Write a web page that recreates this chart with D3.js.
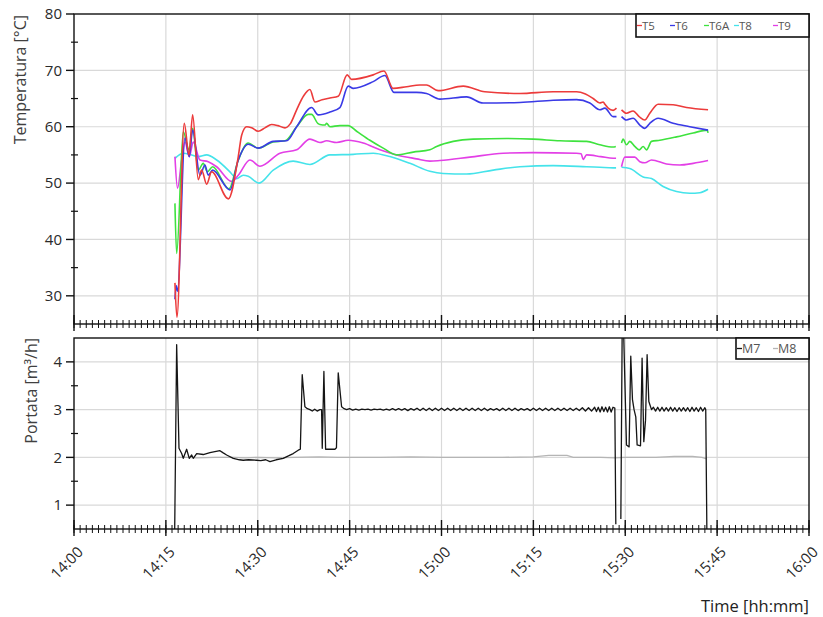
<!DOCTYPE html>
<html><head><meta charset="utf-8">
<script src="https://cdn.jsdelivr.net/npm/d3@7"></script>
<style>
body{margin:0;background:#fff}
svg{display:block}
text{font-family:"Open Sans",sans-serif}
</style>
</head><body>
<svg id="c" width="823" height="617"></svg>
<script>
// ---------- DATA (time = minutes after 14:00, value) ----------
const tempNames = ["T5", "T6", "T6A", "T8", "T9"];
const flowNames = ["M7", "M8"];
const timeTicks = ["14:00","14:15","14:30","14:45","15:00","15:15","15:30","15:45","16:00"];
const tempTicks = [30, 40, 50, 60, 70, 80];
const flowTicks = [1, 2, 3, 4];

const t5 = [[16.48,32.3],[16.81,26.2],[18.0,60.6],[18.77,55.0],[19.37,62.1],[20.29,50.6],[20.84,52.3],[21.66,49.8],[22.47,52.0],[25.2,47.2],[26.82,54.7],[27.37,58.5],[28.19,60.0],[29.0,59.8],[30.08,59.2],[31.17,59.8],[32.27,60.4],[33.3,60.2],[34.44,59.8],[35.3,60.5],[36.35,63.0],[37.5,65.5],[38.52,66.6],[39.33,64.4],[40.5,64.8],[41.78,65.1],[43.14,65.4],[44.6,69.2],[45.32,68.4],[48.85,69.2],[50.6,69.9],[52.11,66.8],[54.3,67.1],[56.47,67.4],[57.56,67.4],[59.46,66.4],[63.54,67.2],[67.08,66.2],[72.8,65.9],[78.24,66.2],[82.05,66.2],[83.5,65.8],[84.76,65.0],[85.85,64.2],[86.39,64.4],[86.67,64.0],[87.21,63.3],[88.02,62.9],[88.57,63.3],[88.9,null],[89.39,63.0],[90.2,62.4],[91.28,62.8],[92.27,61.8],[93.2,61.2],[94.01,62.4],[95.37,64.0],[97.81,63.9],[100.0,63.4],[103.52,63.0]];
const t6 = [[16.48,29.4],[16.7,31.8],[16.9,30.8],[18.12,58.0],[18.82,54.7],[19.37,59.4],[20.56,51.4],[21.38,53.2],[21.92,51.4],[22.64,52.3],[25.46,48.8],[26.82,54.1],[28.45,56.9],[30.08,56.2],[32.53,57.4],[34.71,57.5],[36.35,60.0],[38.79,63.4],[39.87,62.1],[41.78,62.6],[43.41,63.4],[44.77,67.2],[45.59,66.8],[48.85,68.0],[50.76,69.1],[52.23,66.1],[55.93,66.1],[57.56,65.9],[59.74,64.9],[64.09,65.3],[66.8,64.2],[72.8,64.3],[78.24,64.7],[82.05,64.8],[84.22,64.2],[85.85,63.0],[86.67,63.3],[88.02,61.8],[88.57,61.8],[88.9,null],[89.39,61.8],[90.2,61.2],[91.28,61.5],[92.38,60.3],[93.2,59.7],[94.01,60.6],[95.37,61.5],[97.81,60.6],[100.54,60.0],[103.52,59.4]];
const t6a = [[16.48,46.4],[16.76,37.5],[17.84,59.1],[18.77,55.9],[19.37,59.7],[20.29,52.3],[21.1,53.5],[21.76,52.0],[22.64,52.9],[25.3,49.0],[26.8,54.0],[28.45,57.1],[30.08,56.2],[32.5,57.3],[34.44,57.5],[36.35,60.0],[38.24,62.2],[38.79,62.2],[39.8,60.6],[40.15,60.4],[41.0,60.3],[41.24,60.6],[41.78,60.0],[43.41,60.2],[44.77,60.2],[46.14,59.2],[48.31,57.6],[50.48,56.2],[52.67,55.0],[55.38,55.5],[58.1,55.9],[59.2,56.5],[61.91,57.4],[65.17,57.8],[70.63,57.9],[74.97,57.8],[79.32,57.5],[83.68,57.4],[85.85,56.8],[88.02,56.4],[88.46,56.5],[88.9,null],[89.39,57.1],[89.65,57.8],[90.2,56.8],[90.74,57.4],[91.56,56.5],[92.27,55.9],[92.92,56.5],[93.47,55.9],[94.29,57.4],[95.64,57.6],[98.37,58.2],[101.09,58.9],[103.4,59.4],[103.52,58.9]];
const t8 = [[16.48,54.4],[17.84,55.3],[19.21,55.0],[20.29,54.7],[21.66,55.0],[23.29,54.1],[25.46,52.0],[26.55,50.8],[27.63,51.4],[28.45,51.2],[30.2,50.0],[32.53,52.3],[35.79,53.9],[38.52,53.3],[41.78,55.0],[45.59,55.1],[48.85,55.3],[51.57,54.7],[54.84,53.5],[58.1,52.1],[60.27,51.7],[64.09,51.6],[68.44,52.3],[72.8,52.9],[78.24,53.1],[83.68,52.9],[85.85,52.8],[88.0,52.7],[88.5,52.7],[88.9,null],[89.39,52.8],[90.74,52.6],[92.92,51.1],[94.29,50.8],[96.18,49.4],[98.37,48.5],[100.54,48.2],[102.18,48.3],[103.52,48.9]];
const t9 = [[16.48,54.7],[16.9,49.1],[17.58,54.1],[18.12,57.3],[18.82,54.7],[19.47,57.3],[20.56,54.1],[21.92,53.8],[23.29,52.9],[25.74,50.3],[26.82,51.4],[28.72,54.1],[30.36,53.0],[33.62,55.3],[36.35,55.9],[38.52,57.8],[40.15,57.2],[41.24,57.5],[42.87,57.2],[44.77,57.6],[47.22,57.1],[49.94,55.9],[52.67,55.0],[55.93,54.3],[58.1,53.9],[59.74,54.0],[64.63,54.6],[70.07,55.3],[74.97,55.4],[82.05,55.3],[82.8,55.2],[83.13,54.2],[83.68,55.0],[86.0,54.7],[88.02,54.4],[88.5,54.4],[88.9,null],[89.39,52.9],[89.93,54.6],[91.56,54.6],[92.38,53.8],[93.2,53.6],[94.29,54.1],[96.73,53.4],[98.91,53.2],[101.09,53.5],[103.52,54.0]];

const m7 = [[16.40,0.0],[16.76,4.36],[17.14,2.19],[17.58,2.08],[17.84,1.98],[18.39,2.17],[18.82,1.98],[19.21,2.05],[19.47,1.98],[20.03,2.08],[21.1,2.06],[22.2,2.10],[23.0,2.12],[23.83,2.14],[24.3,2.10],[24.92,2.05],[26.0,1.98],[27.0,1.95],[27.63,1.94],[28.5,1.95],[29.82,1.94],[30.5,1.93],[31.3,1.95],[31.99,1.91],[33.0,1.95],[34.16,1.98],[35.0,2.03],[35.79,2.08],[36.61,2.15],[36.95,2.17],[37.26,3.73],[37.7,3.06],[38.1,3.02],[38.52,3.0],[38.9,2.97],[39.3,3.01],[39.7,2.97],[40.15,3.0],[40.42,3.0],[40.53,2.19],[40.8,3.8],[41.08,2.17],[42.6,2.17],[42.85,2.2],[43.14,3.77],[43.69,3.06],[44.1,3.02],
[44.5,3.00],[45.0,3.02],[45.5,2.99],[46.0,3.01],[46.5,2.99],[47.0,3.01],[47.5,3.00],[48.0,3.01],[48.5,2.99],[49.0,3.01],[49.5,3.00],[50.0,3.01],[50.5,2.99],[51.0,3.01],[51.5,2.99],[52.0,3.02],[52.5,2.99],[53.0,3.02],[53.5,2.99],[54.0,3.02],[54.5,2.98],[55.0,3.02],[55.5,2.99],[56.0,3.03],[56.5,2.98],[57.0,3.03],[57.5,2.98],[58.0,3.03],[58.5,2.98],[59.0,3.03],[59.5,2.98],[60.0,3.03],[60.5,2.98],[61.0,3.03],[61.5,2.98],[62.0,3.03],[62.5,2.98],[63.0,3.03],[63.5,2.98],[64.0,3.03],[64.5,2.98],[65.0,3.03],[65.5,2.98],[66.0,3.03],[66.5,2.98],[67.0,3.03],[67.5,2.98],[68.0,3.02],[68.5,2.99],[69.0,3.02],[69.5,2.98],[70.0,3.03],[70.5,2.98],[71.0,3.03],[71.5,2.98],[72.0,3.03],[72.5,2.98],[73.0,3.02],[73.5,2.99],[74.0,3.02],[74.5,2.98],[75.0,3.03],[75.5,2.98],[76.0,3.03],[76.5,2.98],[77.0,3.03],[77.5,2.98],[78.0,3.03],[78.5,2.98],[79.0,3.03],[79.5,2.98],[80.0,3.03],[80.5,2.98],[81.0,3.03],[81.5,2.98],[82.0,3.03],[82.5,2.98],[83.0,3.04],[83.5,2.97],[84.0,3.04],[84.5,2.97],[85.0,3.05],[85.3,2.96],[85.6,3.05],[85.9,2.95],[86.2,3.06],[86.5,2.96],[86.8,3.05],[87.1,2.95],[87.4,3.06],[87.7,2.95],[88.0,3.05],[88.3,3.03],[88.46,0.6],[88.9,null],
[89.28,0.71],[89.5,4.7],[89.72,4.7],[90.2,2.26],[90.63,2.22],[90.9,4.12],[91.18,3.21],[91.44,3.0],[91.72,2.85],[91.94,2.26],[92.49,2.24],[92.75,4.08],[93.03,2.33],[93.31,2.78],[93.57,4.15],[93.85,3.17],[94.29,3.0],
[94.6,3.05],[94.95,2.97],[95.3,3.05],[95.65,2.97],[96.0,3.05],[96.35,2.97],[96.7,3.04],[97.05,2.97],[97.4,3.05],[97.75,2.97],[98.1,3.04],[98.45,2.96],[98.8,3.04],[99.15,2.97],[99.5,3.04],[99.85,2.97],[100.2,3.04],[100.55,2.96],[100.9,3.05],[101.25,2.97],[101.6,3.04],[101.95,2.96],[102.3,3.05],[102.65,2.97],[103.0,3.04],[103.14,3.0],[103.36,0.0]];
const m8 = [[17.0,2.0],[18.5,2.0],[20.0,1.99],[23.0,2.0],[26.0,2.0],[28.0,1.99],[30.0,2.0],[33.0,1.99],[36.0,2.0],[40.0,2.01],[43.0,2.0],[45.0,2.0],[50.0,2.0],[55.0,2.01],[60.0,2.0],[65.0,2.0],[70.0,2.0],[75.0,2.01],[77.5,2.04],[80.5,2.04],[81.5,2.0],[86.0,2.0],[88.3,1.99],[90.0,2.0],[95.0,2.0],[98.0,2.02],[101.0,2.02],[102.5,2.0],[103.3,1.97]];

// ---------- DRAWING ----------
const svg = d3.select("#c");
const L = 74, R = 809;
const topP = {y0: 14, y1: 324};
const botP = {y0: 338, y1: 529};
const base = new Date(2000, 0, 1, 14, 0, 0);
const toDate = m => new Date(base.getTime() + m * 60000);
const parseHM = d3.timeParse("%H:%M");
const tickDates = timeTicks.map(s => { const p = parseHM(s); return new Date(2000,0,1,p.getHours(),p.getMinutes()); });
const x = d3.scaleTime().domain([tickDates[0], tickDates[tickDates.length-1]]).range([L, R]);
const yT = d3.scaleLinear().domain([25, 80]).range([topP.y1, topP.y0]);
const yF = d3.scaleLinear().domain([0.5, 4.5]).range([botP.y1, botP.y0]);

const gridC = "#d9d9d9";
function grid(y, yTicks, p) {
  const g = svg.append("g");
  g.selectAll("line.h").data(yTicks).enter().append("line")
    .attr("x1", L).attr("x2", R).attr("y1", d => y(d)).attr("y2", d => y(d))
    .attr("stroke", gridC).attr("stroke-width", 1.2);
  g.selectAll("line.v").data(tickDates.slice(1, -1)).enter().append("line")
    .attr("x1", d => x(d)).attr("x2", d => x(d)).attr("y1", p.y0).attr("y2", p.y1)
    .attr("stroke", gridC).attr("stroke-width", 1.2);
}
grid(yT, tempTicks.filter(v => v < 80), topP);
grid(yF, flowTicks, botP);

// clip paths
const defs = svg.append("defs");
defs.append("clipPath").attr("id", "clipT").append("rect").attr("x", L).attr("y", topP.y0).attr("width", R - L).attr("height", topP.y1 - topP.y0);
defs.append("clipPath").attr("id", "clipF").append("rect").attr("x", L).attr("y", botP.y0).attr("width", R - L).attr("height", botP.y1 - botP.y0);

const tempColors = {"T5": "#ec3b3b", "T6": "#3a3ae6", "T6A": "#3ee23e", "T8": "#45e3ea", "T9": "#e33fe6"};
const flowColors = {"M7": "#151515", "M8": "#b5b5b5"};
const tempData = {"T5": t5, "T6": t6, "T6A": t6a, "T8": t8, "T9": t9};

const lineT = d3.line().defined(d => d[1] !== null).x(d => x(toDate(d[0]))).y(d => yT(d[1])).curve(d3.curveMonotoneX);
const lineF = d3.line().defined(d => d[1] !== null).x(d => x(toDate(d[0]))).y(d => yF(d[1]));

const gT = svg.append("g").attr("clip-path", "url(#clipT)");
["T8", "T9", "T6A", "T6", "T5"].forEach(n => {
  gT.append("path").datum(tempData[n]).attr("d", lineT).attr("fill", "none")
    .attr("stroke", tempColors[n]).attr("stroke-width", 1.6).attr("stroke-linejoin", "round");
});
const gF = svg.append("g").attr("clip-path", "url(#clipF)");
gF.append("path").datum(m8).attr("d", lineF).attr("fill", "none").attr("stroke", flowColors.M8).attr("stroke-width", 1.3);
gF.append("path").datum(m7).attr("d", lineF).attr("fill", "none").attr("stroke", flowColors.M7).attr("stroke-width", 1.3).attr("stroke-linejoin", "round");

// frames
function frame(p) {
  svg.append("rect").attr("x", L).attr("y", p.y0).attr("width", R - L).attr("height", p.y1 - p.y0)
    .attr("fill", "none").attr("stroke", "#111").attr("stroke-width", 1.4);
}
frame(topP); frame(botP);

// x ticks
const minor = d3.timeMinute.every(1).range(tickDates[0], d3.timeMinute.offset(tickDates[tickDates.length-1], 1));
function xTicks(yAx) {
  const g = svg.append("g").attr("stroke", "#111");
  g.selectAll("line.mn").data(minor).enter().append("line")
    .attr("x1", d => x(d)).attr("x2", d => x(d)).attr("y1", yAx - 4).attr("y2", yAx + 4).attr("stroke-width", 1);
  g.selectAll("line.mj").data(tickDates).enter().append("line")
    .attr("x1", d => x(d)).attr("x2", d => x(d)).attr("y1", yAx - 9).attr("y2", yAx + 7).attr("stroke-width", 1.4);
}
xTicks(topP.y1); xTicks(botP.y1);

// y ticks
function yTicks(y, ticks, minorTicks) {
  const g = svg.append("g");
  g.selectAll("line.mj").data(ticks).enter().append("line")
    .attr("x1", L - 8).attr("x2", L).attr("y1", d => y(d)).attr("y2", d => y(d)).attr("stroke", "#111").attr("stroke-width", 1.4);
  g.selectAll("line.mn").data(minorTicks).enter().append("line")
    .attr("x1", L - 3).attr("x2", L + 4).attr("y1", d => y(d)).attr("y2", d => y(d)).attr("stroke", "#111").attr("stroke-width", 1.2);
  g.selectAll("text").data(ticks).enter().append("text")
    .attr("x", L - 12).attr("y", d => y(d)).attr("dy", "0.35em").attr("text-anchor", "end")
    .attr("font-size", 15).attr("fill", "#2a2a2a").text(d => d);
}
yTicks(yT, tempTicks, d3.range(35, 80, 10));
yTicks(yF, flowTicks, [1.5, 2.5, 3.5]);

// x labels
svg.append("g").selectAll("text").data(tickDates).enter().append("text")
  .attr("transform", (d, i) => `translate(${x(d) + 10},${botP.y1 + 24}) rotate(-45)`)
  .attr("text-anchor", "end").attr("font-size", 15).attr("fill", "#2a2a2a")
  .text((d, i) => timeTicks[i]);

// axis titles
svg.append("text").attr("transform", `translate(26,15) rotate(-90)`).attr("text-anchor", "end")
  .attr("font-size", 16).attr("fill", "#404040").text("Temperatura [°C]");
svg.append("text").attr("transform", `translate(37,338) rotate(-90)`).attr("text-anchor", "end")
  .attr("font-size", 16).attr("fill", "#404040").text("Portata [m³/h]");
svg.append("text").attr("x", R).attr("y", 612).attr("text-anchor", "end")
  .attr("font-size", 16.5).attr("fill", "#222").text("Time [hh:mm]");

// legends
function legend(names, colors, bx, by, bw, bh, offsets, fs) {
  const g = svg.append("g");
  g.append("rect").attr("x", bx).attr("y", by).attr("width", bw).attr("height", bh)
    .attr("fill", "#fff").attr("stroke", "#111").attr("stroke-width", 1.6);
  names.forEach((n, i) => {
    const lx = bx + offsets[i];
    const cy = by + bh / 2;
    g.append("line").attr("x1", lx).attr("x2", lx + 5).attr("y1", cy).attr("y2", cy)
      .attr("stroke", colors[n]).attr("stroke-width", 1.3);
    g.append("text").attr("x", lx + 5).attr("y", cy).attr("dy", "0.36em").attr("font-size", fs)
      .attr("fill", "#555").text(n);
  });
}
legend(tempNames, tempColors, 636, 14, 173, 23, [1, 34, 68, 98, 137], 11.5);
legend(flowNames, flowColors, 736, 338, 73, 21, [1, 37], 12.5);
</script>
</body></html>
